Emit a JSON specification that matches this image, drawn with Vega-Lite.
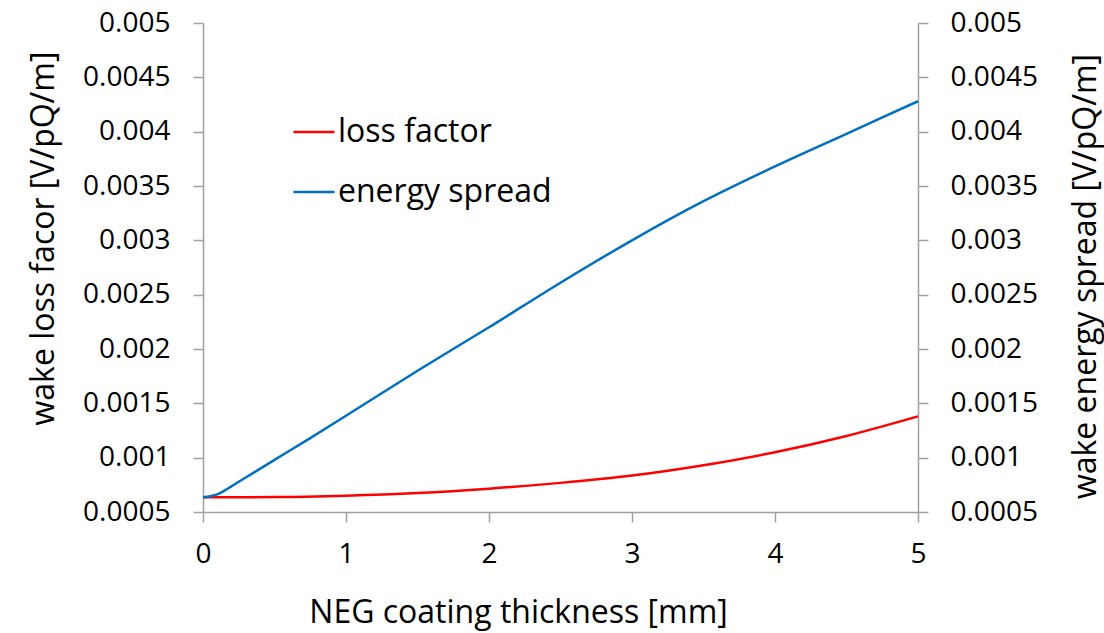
{
  "$schema": "https://vega.github.io/schema/vega-lite/v6.json",
  "width": 715,
  "height": 489,
  "autosize": "none",
  "padding": {"left": 203, "top": 23, "right": 186, "bottom": 121},
  "background": "white",
  "config": {
    "view": {"stroke": null},
    "font": "Open Sans",
    "axis": {
      "grid": false,
      "labelFlush": false,
      "domainColor": "#A0A0A0",
      "domainWidth": 1.5,
      "tickColor": "#A0A0A0",
      "tickWidth": 1.5,
      "tickSize": 10,
      "labelFont": "Open Sans",
      "labelFontSize": 28,
      "labelColor": "#000000",
      "titleFont": "Open Sans",
      "titleFontSize": 32,
      "titleFontWeight": "normal",
      "titleColor": "#000000"
    }
  },
  "data": {
    "values": [
      {"x": 0, "value": 0.000635, "series": "loss factor"},
      {"x": 0.5, "value": 0.000637, "series": "loss factor"},
      {"x": 1, "value": 0.00065, "series": "loss factor"},
      {"x": 1.5, "value": 0.000675, "series": "loss factor"},
      {"x": 2, "value": 0.000715, "series": "loss factor"},
      {"x": 2.5, "value": 0.000768, "series": "loss factor"},
      {"x": 3, "value": 0.000835, "series": "loss factor"},
      {"x": 3.5, "value": 0.00093, "series": "loss factor"},
      {"x": 4, "value": 0.00105, "series": "loss factor"},
      {"x": 4.5, "value": 0.0012, "series": "loss factor"},
      {"x": 5, "value": 0.00138, "series": "loss factor"},
      {"x": 0, "value": 0.000635, "series": "energy spread"},
      {"x": 0.05, "value": 0.000645, "series": "energy spread"},
      {"x": 0.1, "value": 0.000662, "series": "energy spread"},
      {"x": 0.15, "value": 0.000697, "series": "energy spread"},
      {"x": 0.25, "value": 0.000778, "series": "energy spread"},
      {"x": 0.5, "value": 0.00098, "series": "energy spread"},
      {"x": 0.75, "value": 0.00118, "series": "energy spread"},
      {"x": 1, "value": 0.001386, "series": "energy spread"},
      {"x": 1.5, "value": 0.0018, "series": "energy spread"},
      {"x": 2, "value": 0.0022, "series": "energy spread"},
      {"x": 2.5, "value": 0.00261, "series": "energy spread"},
      {"x": 3, "value": 0.003, "series": "energy spread"},
      {"x": 3.5, "value": 0.00336, "series": "energy spread"},
      {"x": 4, "value": 0.00368, "series": "energy spread"},
      {"x": 4.5, "value": 0.00398, "series": "energy spread"},
      {"x": 5, "value": 0.00428, "series": "energy spread"}
    ]
  },
  "encoding": {
    "x": {
      "field": "x",
      "type": "quantitative",
      "scale": {"domain": [0, 5], "nice": false, "zero": false},
      "axis": {
        "values": [0, 1, 2, 3, 4, 5],
        "format": "d",
        "labelPadding": 18,
        "title": "NEG coating thickness [mm]",
        "titleX": 315,
        "titleY": 100,
        "titleBaseline": "middle"
      }
    },
    "color": {
      "field": "series",
      "type": "nominal",
      "scale": {"domain": ["loss factor", "energy spread"], "range": ["#FF0000", "#0070C0"]},
      "legend": {
        "title": null,
        "orient": "none",
        "legendX": 89,
        "legendY": 87,
        "symbolType": "stroke",
        "symbolSize": 1681,
        "symbolStrokeWidth": 2.5,
        "labelFont": "Open Sans",
        "labelFontSize": 32,
        "labelColor": "#000000",
        "labelOffset": 2,
        "rowPadding": 22,
        "labelLimit": 400
      }
    }
  },
  "layer": [
    {
      "transform": [{"filter": "datum.series === 'loss factor'"}],
      "mark": {"type": "line", "strokeWidth": 2.5, "interpolate": "monotone"},
      "encoding": {
        "y": {
          "field": "value",
          "type": "quantitative",
          "scale": {"domain": [0.0005, 0.005], "nice": false, "zero": false},
          "axis": {
            "orient": "left",
            "values": [0.0005, 0.001, 0.0015, 0.002, 0.0025, 0.003, 0.0035, 0.004, 0.0045, 0.005],
            "format": ".4~f",
            "labelPadding": 23,
            "title": "wake loss facor [V/pQ/m]",
            "titleX": -160,
            "titleY": 215,
            "titleAngle": 270,
            "titleBaseline": "middle",
            "titleAlign": "center"
          }
        }
      }
    },
    {
      "transform": [{"filter": "datum.series === 'energy spread'"}],
      "mark": {"type": "line", "strokeWidth": 2.5, "interpolate": "monotone"},
      "encoding": {
        "y": {
          "field": "value",
          "type": "quantitative",
          "scale": {"domain": [0.0005, 0.005], "nice": false, "zero": false},
          "axis": {
            "orient": "right",
            "values": [0.0005, 0.001, 0.0015, 0.002, 0.0025, 0.003, 0.0035, 0.004, 0.0045, 0.005],
            "format": ".4~f",
            "labelPadding": 22,
            "title": "wake energy spread [V/pQ/m]",
            "titleX": 167,
            "titleY": 253,
            "titleAngle": 270,
            "titleBaseline": "middle",
            "titleAlign": "center"
          }
        }
      }
    }
  ],
  "resolve": {"scale": {"y": "independent"}}
}
